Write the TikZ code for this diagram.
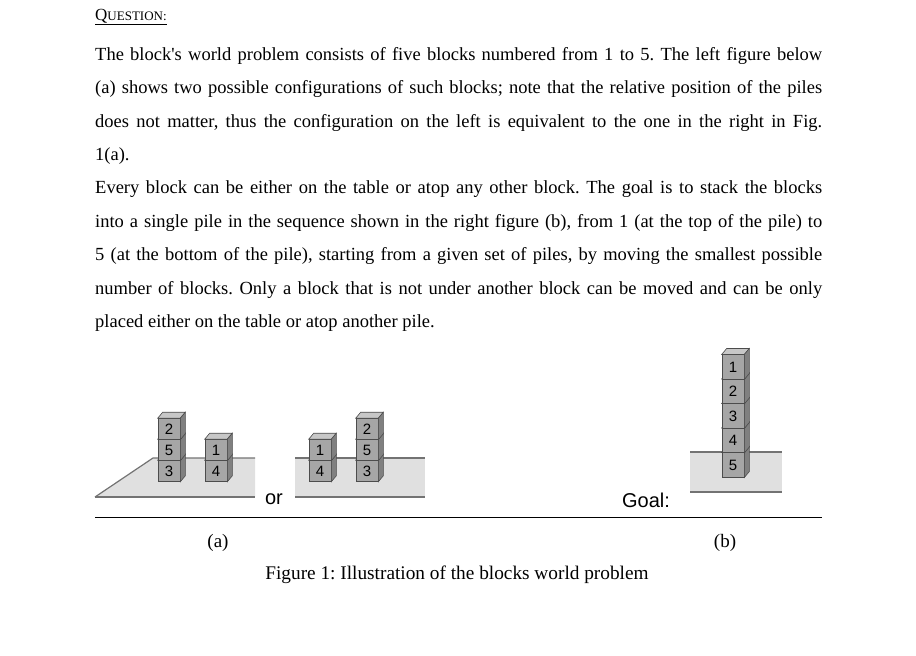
\documentclass[tikz,border=0pt]{standalone}
\usepackage{fontspec}
\setmainfont{Liberation Serif}
\newfontfamily\arialf{Liberation Sans}
\begin{document}
\frenchspacing
\begin{tikzpicture}[x=1pt,y=-1pt,
  txt/.style={anchor=west,inner sep=0pt,font=\fontsize{18.5}{20}\selectfont},
  blk/.style={draw=black!70,fill=black!35,minimum width=22pt,minimum height=21pt,inner sep=0pt,font=\arialf\fontsize{15}{15}\selectfont,line width=0.6pt},
  blktall/.style={blk,minimum width=22pt,minimum height=24.5pt},
  tbl/.style={fill=black!12,draw=none},
  tedge/.style={draw=black!55,line width=1.2pt}]
\useasboundingbox (0,0) rectangle (916,656);
\newcommand\blkdraw[4][blk]{%
  \node[#1] (#2) at (#3) {#4};
  \draw[draw=black!70,fill=black!22,line width=0.6pt] (#2.north west) -- ++(5,-6) -- ([shift={(5,-6)}]#2.north east) -- (#2.north east) -- cycle;
  \draw[draw=black!70,fill=black!50,line width=0.6pt] (#2.north east) -- ++(5,-6) -- ([shift={(5,-6)}]#2.south east) -- (#2.south east) -- cycle;}
% header
\node[anchor=west,inner sep=0pt] (q) at (95,17) {\fontsize{17}{18}\selectfont\underline{Q\fontsize{13}{14}\selectfont UESTION:}};
\node[txt] (l1) at (95,56) {\hbox to 727pt{The block\textquotesingle s world problem consists of five blocks numbered from 1 to 5. The left figure below}};
\node[txt] (l2) at (95,89) {\hbox to 727pt{(a) shows two possible configurations of such blocks; note that the relative position of the piles}};
\node[txt] (l3) at (95,123) {\hbox to 727pt{does not matter, thus the configuration on the left is equivalent to the one in the right in Fig.}};
\node[txt] (l4) at (95,156) {1(a).};
\node[txt] (l5) at (95,189) {\hbox to 727pt{Every block can be either on the table or atop any other block. The goal is to stack the blocks}};
\node[txt] (l6) at (95,223) {\hbox to 727pt{into a single pile in the sequence shown in the right figure (b), from 1 (at the top of the pile) to}};
\node[txt] (l7) at (95,256) {\hbox to 727pt{5 (at the bottom of the pile), starting from a given set of piles, by moving the smallest possible}};
\node[txt] (l8) at (95,290) {\hbox to 727pt{number of blocks. Only a block that is not under another block can be moved and can be only}};
\node[txt] (l9) at (95,323) {placed either on the table or atop another pile.};
% left table
\path[tbl] (95,497) -- (153,458) -- (255,458) -- (255,497) -- cycle;
\draw[tedge] (95,497) -- (153,458) -- (255,458);
\draw[tedge] (95,497) -- (255,497);
\blkdraw{a3}{169,471}{3}
\blkdraw{a5}{169,450}{5}
\blkdraw{a2}{169,429}{2}
\blkdraw{a4}{216,471}{4}
\blkdraw{a1}{216,450}{1}
\node[font=\arialf\fontsize{20}{20}\selectfont,inner sep=0pt] (or) at (274,499) {or};
% middle table
\path[tbl] (295,458) rectangle (425,497);
\draw[tedge] (295,458) -- (425,458);
\draw[tedge] (295,497) -- (425,497);
\blkdraw{b4}{320,471}{4}
\blkdraw{b1}{320,450}{1}
\blkdraw{b3}{367,471}{3}
\blkdraw{b5}{367,450}{5}
\blkdraw{b2}{367,429}{2}
% goal
\node[font=\arialf\fontsize{20}{20}\selectfont,inner sep=0pt] (goal) at (646,500) {Goal:};
\path[tbl] (690,452) rectangle (782,492);
\draw[tedge] (690,452) -- (782,452);
\draw[tedge] (690,492) -- (782,492);
\blkdraw[blktall]{g5}{733,465}{5}
\blkdraw[blktall]{g4}{733,440.5}{4}
\blkdraw[blktall]{g3}{733,416}{3}
\blkdraw[blktall]{g2}{733,391.5}{2}
\blkdraw[blktall]{g1}{733,367}{1}
% rule and captions
\draw[line width=0.8pt] (95,517) -- (822,517);
\node[font=\fontsize{19}{20}\selectfont] (ca) at (218,543) {(a)};
\node[font=\fontsize{19}{20}\selectfont] (cb) at (725,543) {(b)};
\node[font=\fontsize{19.3}{20}\selectfont] (cap) at (457,575) {Figure 1: Illustration of the blocks world problem};
\end{tikzpicture}
\end{document}
